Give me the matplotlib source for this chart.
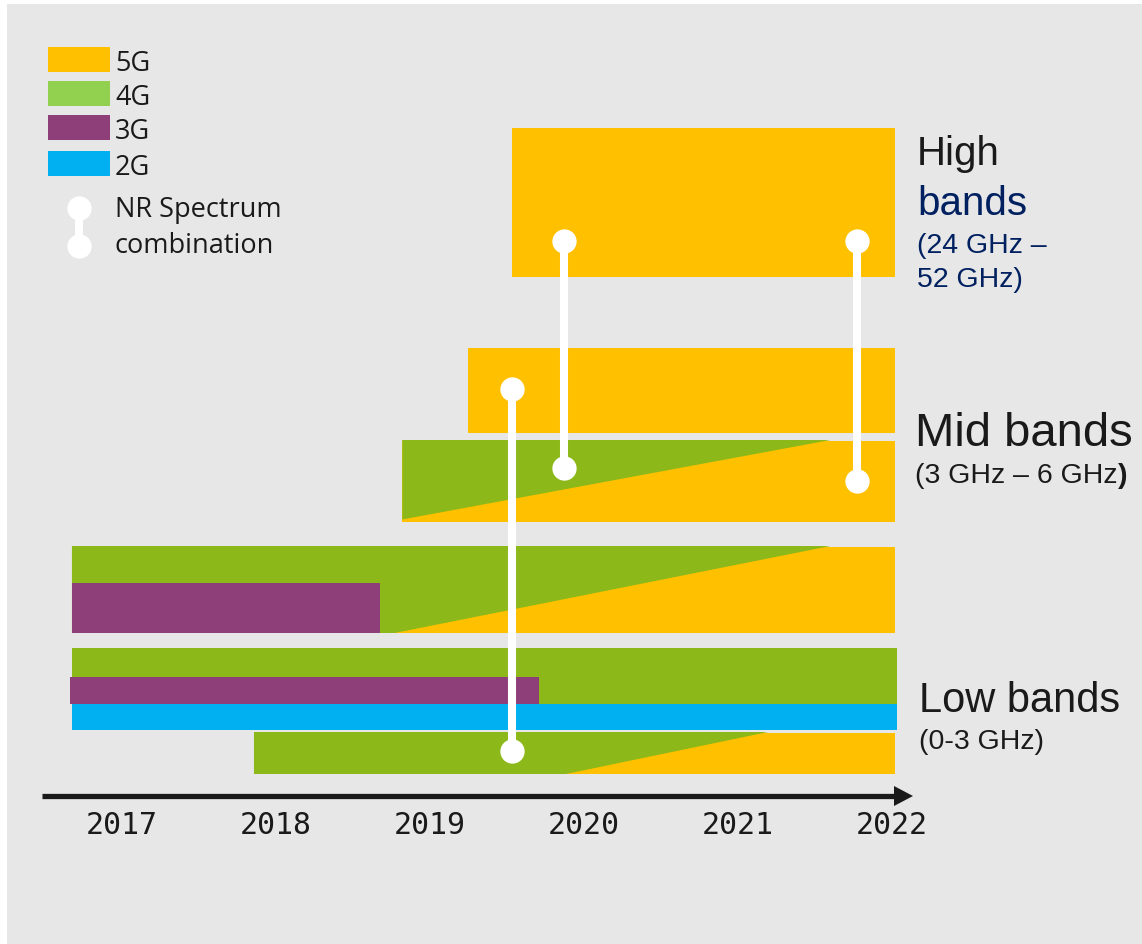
import matplotlib
matplotlib.use("Agg")
import matplotlib.pyplot as plt
from matplotlib.patches import Rectangle, Polygon

# ---------------- data (years) ----------------
years = [2017, 2018, 2019, 2020, 2021, 2022]
legend_labels = ["5G", "4G", "3G", "2G"]
legend_colors = ["#FFC000", "#92D050", "#8E3F7A", "#00B0F0"]

END = 2022.02
# high band: 5G only
high_5g = (2019.53, END)
# mid band: 5G-only row, and a 4G row refarmed to 5G
mid_5g = (2019.25, END)
mid_refarm = (2018.82, 2021.60)          # 4G start, transition end
# low band row 1: 4G+3G, refarmed to 5G
low1_4g_start = 2016.675
low1_3g_end = 2018.675
low1_refarm = (2018.77, 2021.60)
# low band row 2: 4G, 3G, 2G
low2_4g = (2016.675, 2022.03)
low2_3g = (2016.66, 2019.71)
low2_2g = (2016.675, 2022.03)
# low band row 3: 4G refarmed to 5G
low3_4g_start = 2017.857
low3_refarm = (2019.883, 2021.195)
# NR spectrum combinations (year of connector)
combo_years = [2019.53, 2019.87, 2021.77]

Y5G, G4, P3, B2 = "#FFC000", "#8CB919", "#8E3F7A", "#00B0F0"
INK = "#1a1a1a"
NAVY = "#002060"

fig = plt.figure(figsize=(11.42, 9.44), dpi=100)
fig.patch.set_facecolor("white")

ax = fig.add_axes([0, 0, 1, 1])
ax.set_facecolor("none")
px_per_year = 154.0
ax.set_xlim(2017 - 122 / px_per_year, 2017 + (1142 - 122) / px_per_year)
ax.set_ylim(944, 0)
ax.axis("off")
ax.add_patch(Rectangle((7 / 1142, 0), 1, (944 - 4) / 944, transform=ax.transAxes,
                       facecolor="#e7e7e7", edgecolor="none", zorder=0))


def rect(x0, x1, top, bot, color, z=2):
    ax.add_patch(Rectangle((x0, top), x1 - x0, bot - top, facecolor=color, edgecolor="none", zorder=z))


def poly(pts, color, z=3):
    ax.add_patch(Polygon(pts, closed=True, facecolor=color, edgecolor="none", zorder=z))


# high band
rect(high_5g[0], high_5g[1], 128, 277, Y5G)
# mid band
rect(mid_5g[0], mid_5g[1], 348, 433, Y5G)
rect(mid_refarm[0], END, 441, 522, Y5G)
poly([(mid_refarm[0], 440), (mid_refarm[1], 440), (mid_refarm[0], 519.5)], G4)
# low row 1
rect(low1_refarm[0], END, 547, 633, Y5G)
poly([(low1_4g_start, 546), (low1_refarm[1], 546), (low1_refarm[0], 633), (low1_4g_start, 633)], G4)
rect(low1_4g_start, low1_3g_end, 583, 633, P3, z=4)
# low row 2
rect(low2_4g[0], low2_4g[1], 648, 704, G4)
rect(low2_3g[0], low2_3g[1], 677, 704, P3, z=3)
rect(low2_2g[0], low2_2g[1], 704, 729.5, B2, z=3)
# low row 3
rect(low3_refarm[0], END, 733, 774, Y5G)
poly([(low3_4g_start, 732), (low3_refarm[1], 732), (low3_refarm[0], 774), (low3_4g_start, 774)], G4)

# connectors
combo_tops = [389, 241, 241]
combo_bots = [751, 468, 481]
for xv, t, b in zip(combo_years, combo_tops, combo_bots):
    ax.plot([xv, xv], [t, b], color="white", lw=5.8, zorder=6, solid_capstyle="butt")
    ax.plot([xv, xv], [t, b], "o", color="white", ms=17.5, mec="none", zorder=7)

# time axis arrow
ax.plot([2017 - 80 / px_per_year, 2017 + 775 / px_per_year], [796, 796], color=INK, lw=3.8,
        solid_capstyle="butt", zorder=5)
ax.add_patch(Polygon([(2017 + 772 / px_per_year, 786), (2017 + 791 / px_per_year, 796),
                      (2017 + 772 / px_per_year, 806)], closed=True, facecolor=INK,
                     edgecolor="none", zorder=5))
for yr in years:
    ax.text(yr, 834, str(yr), ha="center", va="baseline", fontsize=21.5,
            family="DejaVu Sans Mono", color=INK)

# right labels
lab = "Liberation Sans"
xl = 2017 + (917 - 122) / px_per_year
ax.text(xl, 165, "High", fontsize=29, family=lab, color=INK, va="baseline")
ax.text(xl, 215, "bands", fontsize=29, family=lab, color=NAVY, va="baseline")
ax.text(xl, 253, "(24 GHz \u2013", fontsize=20.5, family=lab, color=NAVY, va="baseline")
ax.text(xl, 287, "52 GHz)", fontsize=20.5, family=lab, color=NAVY, va="baseline")
xm = 2017 + (915 - 122) / px_per_year
ax.text(xm, 446, "Mid bands", fontsize=34, family=lab, color=INK, va="baseline")
t = ax.text(xm, 483, "(3 GHz \u2013 6 GHz", fontsize=20.5, family=lab, color=INK, va="baseline")
fig.canvas.draw()
bb = t.get_window_extent()
xr = ax.transData.inverted().transform((bb.x1, 0))[0]
ax.text(xr, 483, ")", fontsize=20.5, family=lab, color=INK, va="baseline", weight="bold")
xlo = 2017 + (919 - 122) / px_per_year
ax.text(xlo, 712, "Low bands", fontsize=30, family=lab, color=INK, va="baseline")
ax.text(xlo, 749, "(0-3 GHz)", fontsize=20.5, family=lab, color=INK, va="baseline")

# legend
lx0 = 2017 + (48 - 122) / px_per_year
lx1 = 2017 + (110 - 122) / px_per_year
ltx = 2017 + (115 - 122) / px_per_year
sw_tops = [47, 81, 115, 151]
leg_font = dict(fontsize=19.5, family="Open Sans", color=INK, va="baseline")
for lbl, col, tp in zip(legend_labels, legend_colors, sw_tops):
    rect(lx0, lx1, tp, tp + 25, col, z=2)
    ax.text(ltx, tp + 24, lbl, **leg_font)
ix = 2017 + (79 - 122) / px_per_year
ax.plot([ix, ix], [208, 246], color="white", lw=5.8, zorder=6, solid_capstyle="butt")
ax.plot([ix, ix], [208, 246], "o", color="white", ms=17.5, mec="none", zorder=7)
ax.text(ltx, 217, "NR Spectrum", **leg_font)
ax.text(ltx, 253, "combination", **leg_font)

fig.savefig("out.png", dpi=100, facecolor=fig.get_facecolor())
